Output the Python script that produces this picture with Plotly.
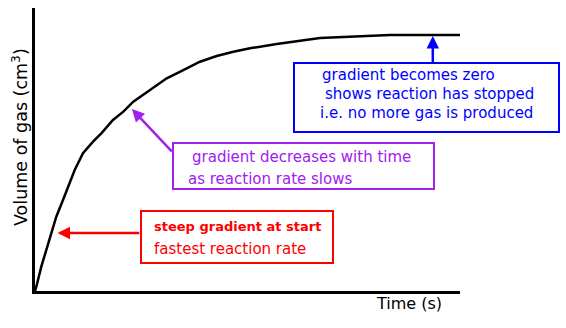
import plotly.graph_objects as go

# Data (time in arbitrary units 0-100, volume 0-100)
time_s = [0, 0.31, 1.48, 2.66, 3.84, 5.01, 6.59, 8.16, 9.34, 11.29, 13.65, 15.6, 18.35,
          20.78, 23.13, 27.06, 30.99, 34.89, 38.82, 42.75, 46.66, 50.59, 56.87, 67.06,
          76.47, 83.53, 100]
volume = [0, 1.52, 8.59, 14.49, 20.95, 26.25, 32.16, 38.06, 42.76, 48.66, 52.76, 55.72, 60.42,
          63.36, 66.89, 71.02, 75.16, 78.09, 81.02, 83.04, 84.56, 85.76, 87.28, 89.4,
          90.11, 90.46, 90.46]

red_lines = ["steep gradient at start", "fastest reaction rate"]
purple_lines = ["gradient decreases with time", "as reaction rate slows"]
blue_lines = ["gradient becomes zero", "shows reaction has stopped", "i.e. no more gas is produced"]

W, H = 566, 328
L, R, T, B = 35, 460, 8, 291


def px(x):
    return (x - L) / (R - L)


def py(y):
    return (B - y) / (B - T)


FONT = "DejaVu Sans"

fig = go.Figure()
fig.add_trace(go.Scatter(x=time_s, y=volume, mode="lines",
                         line=dict(color="black", width=2.5),
                         hoverinfo="skip", showlegend=False))

fig.update_layout(
    width=W, height=H,
    margin=dict(l=L, r=W - R, t=T, b=H - B, pad=0),
    paper_bgcolor="white", plot_bgcolor="white",
    xaxis=dict(range=[0, 100], showgrid=False, zeroline=False, showticklabels=False,
               ticks="", showline=True, linecolor="black", linewidth=3, fixedrange=True),
    yaxis=dict(range=[0, 100], showgrid=False, zeroline=False, showticklabels=False,
               ticks="", showline=True, linecolor="black", linewidth=3, fixedrange=True),
    showlegend=False,
)

# boxes
boxes = [
    ((141, 211, 333, 263), "#ff0000"),
    ((173, 143, 434, 189), "#a020f0"),
    ((294, 63, 559, 132), "#0000ff"),
]
for (x0, y0, x1, y1), col in boxes:
    fig.add_shape(type="rect", xref="paper", yref="paper",
                  x0=px(x0), x1=px(x1), y0=py(y1), y1=py(y0),
                  line=dict(color=col, width=2), fillcolor="rgba(0,0,0,0)")

anns = []


def txt(s, x, y, col, size=15, xanchor="left", angle=0):
    anns.append(dict(text=s, x=px(x), y=py(y), xref="paper", yref="paper",
                     xanchor=xanchor, yanchor="middle", showarrow=False, textangle=angle,
                     font=dict(family=FONT, size=size, color=col)))


txt("<b>" + red_lines[0] + "</b>", 152, 227, "#ff0000", 13)
txt(red_lines[1], 152, 249, "#ff0000", 15)
txt(purple_lines[0], 190, 157, "#a020f0", 15)
txt(purple_lines[1], 186, 179, "#a020f0", 15)
txt(blue_lines[0], 320, 75, "#0000ff", 15)
txt(blue_lines[1], 323, 94, "#0000ff", 15)
txt(blue_lines[2], 318, 113, "#0000ff", 15)

txt("Time (s)", 409, 303, "black", 16, xanchor="center")
txt("Volume of gas (cm<sup>3</sup>)", 20, 137, "black", 17.5, xanchor="center", angle=-90)

# arrows (head on curve, tail on box)
arrows = [
    ((5.3, 20.5), (24.9, 20.5), "#ff0000"),
    ((22.8, 64.3), (32.5, 48.8), "#a020f0"),
    ((93.6, 90.1), (93.6, 80.2), "#0000ff"),
]
for (hx, hy), (tx, ty), col in arrows:
    anns.append(dict(x=hx, y=hy, ax=tx, ay=ty, xref="x", yref="y", axref="x", ayref="y",
                     text="", showarrow=True, arrowhead=2, arrowsize=1, arrowwidth=2.5,
                     arrowcolor=col, standoff=0, startstandoff=0))

fig.update_layout(annotations=anns)
fig.write_html("out.html")
